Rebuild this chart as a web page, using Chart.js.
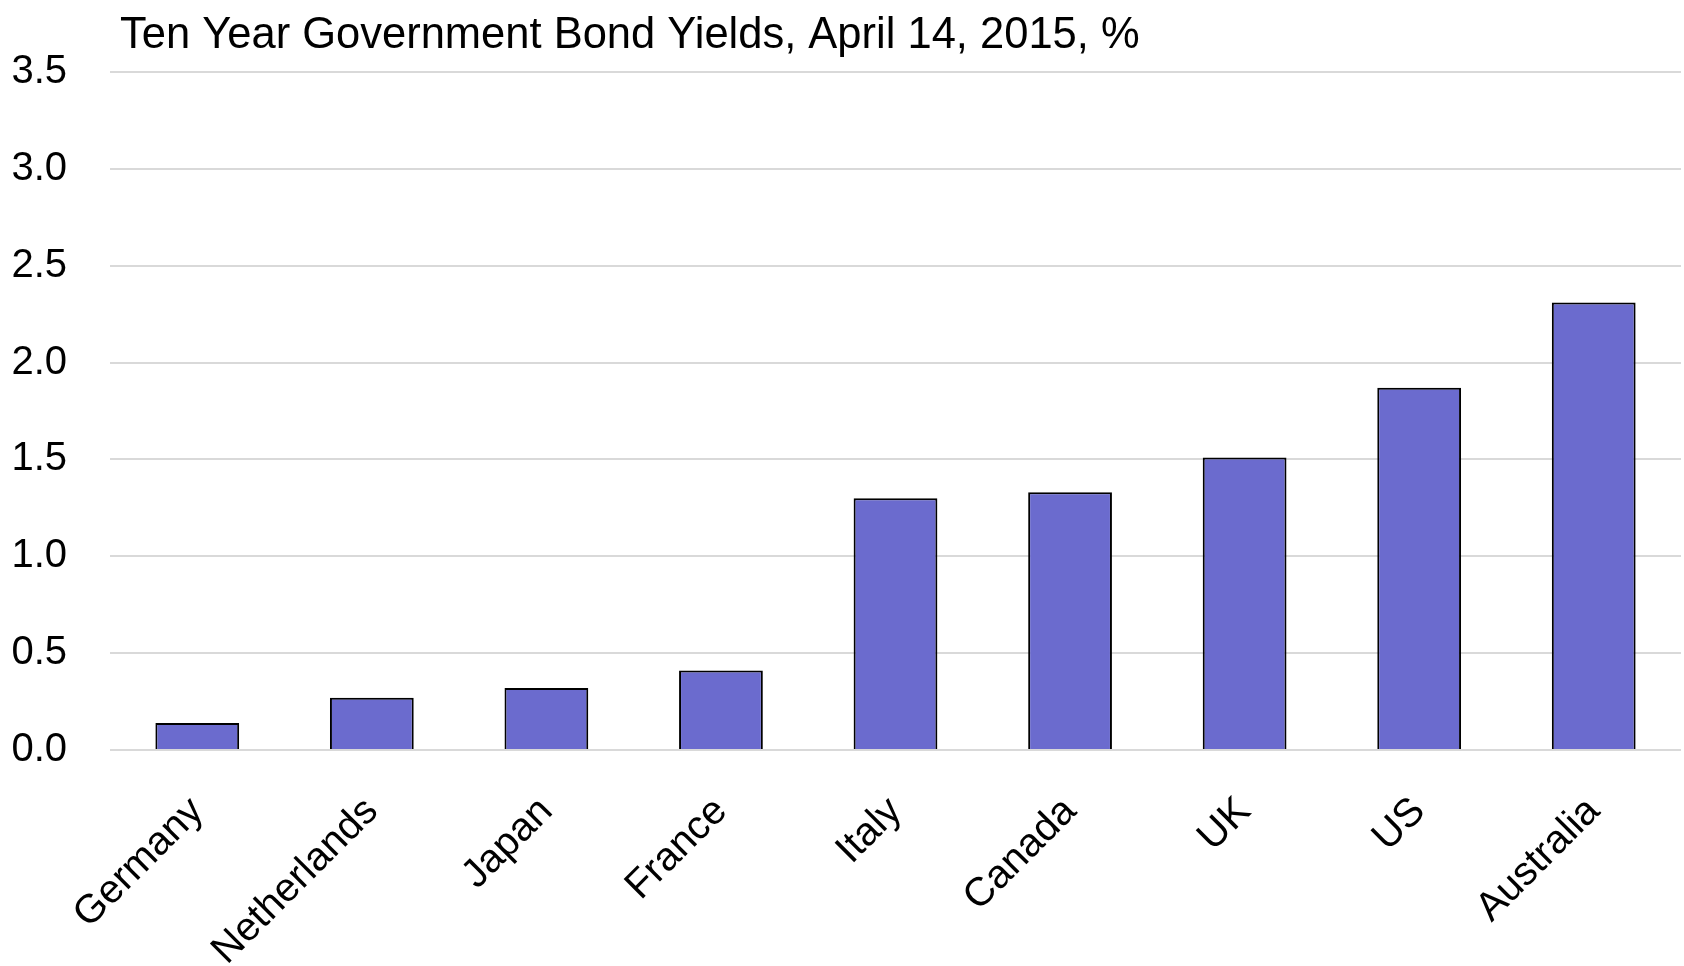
<!DOCTYPE html>
<html>
<head>
<meta charset="utf-8">
<title>Ten Year Government Bond Yields</title>
<script src="https://cdn.jsdelivr.net/npm/chart.js@4/dist/chart.umd.min.js"></script>
<style>
  html, body { margin: 0; padding: 0; background: #fff; }
  #wrap { width: 1684px; height: 966px; position: relative; }
</style>
</head>
<body>
<div id="wrap"><canvas id="bondChart" width="1684" height="966"></canvas></div>
<script>
const chartTitle = "Ten Year Government Bond Yields, April 14, 2015, %";
const countries = ["Germany", "Netherlands", "Japan", "France", "Italy", "Canada", "UK", "US", "Australia"];
const yields = [0.14, 0.27, 0.32, 0.41, 1.30, 1.33, 1.51, 1.87, 2.31];
const yTicks = [0, 0.5, 1.0, 1.5, 2.0, 2.5, 3.0, 3.5];

const fontFamily = "'Liberation Sans Narrow', 'Arial Narrow', 'Liberation Sans', Arial, sans-serif";

// タイトルはプロット領域の左端に合わせて描く
const titlePlugin = {
  id: "leftTitle",
  afterDraw(chart) {
    const ctx = chart.ctx;
    ctx.save();
    ctx.font = "43.5px " + fontFamily;
    ctx.fillStyle = "#000";
    ctx.textAlign = "left";
    ctx.textBaseline = "alphabetic";
    ctx.fillText(chartTitle, chart.chartArea.left + 10, 48);
    ctx.restore();
  }
};

const ctx = document.getElementById("bondChart").getContext("2d");
new Chart(ctx, {
  type: "bar",
  data: {
    labels: countries,
    datasets: [{
      label: "10Y yield",
      data: yields,
      backgroundColor: "#6b6bce",
      borderColor: "#000",
      borderWidth: 2,
      barPercentage: 0.48,
      categoryPercentage: 1.0
    }]
  },
  options: {
    responsive: false,
    animation: false,
    devicePixelRatio: 1,
    layout: { padding: { top: 72, right: 3, left: 0, bottom: 0 } },
    plugins: {
      legend: { display: false },
      title: { display: false },
      tooltip: { enabled: false }
    },
    scales: {
      x: {
        grid: { display: false },
        border: { display: false },
        ticks: {
          color: "#000",
          font: { family: fontFamily, size: 40 },
          minRotation: 45,
          maxRotation: 45,
          padding: 30
        },
        afterFit(scale) { scale.height = 216; }
      },
      y: {
        min: 0,
        max: 3.5,
        afterBuildTicks(scale) { scale.ticks = yTicks.map(v => ({ value: v })); },
        grid: { color: "#d9d9d9", lineWidth: 2, drawTicks: false },
        border: { display: false },
        ticks: {
          color: "#000",
          font: { family: fontFamily, size: 40 },
          padding: 43,
          callback: v => Number(v).toFixed(1)
        },
        afterFit(scale) { scale.width = 110; }
      }
    }
  },
  plugins: [titlePlugin]
});
</script>
</body>
</html>
